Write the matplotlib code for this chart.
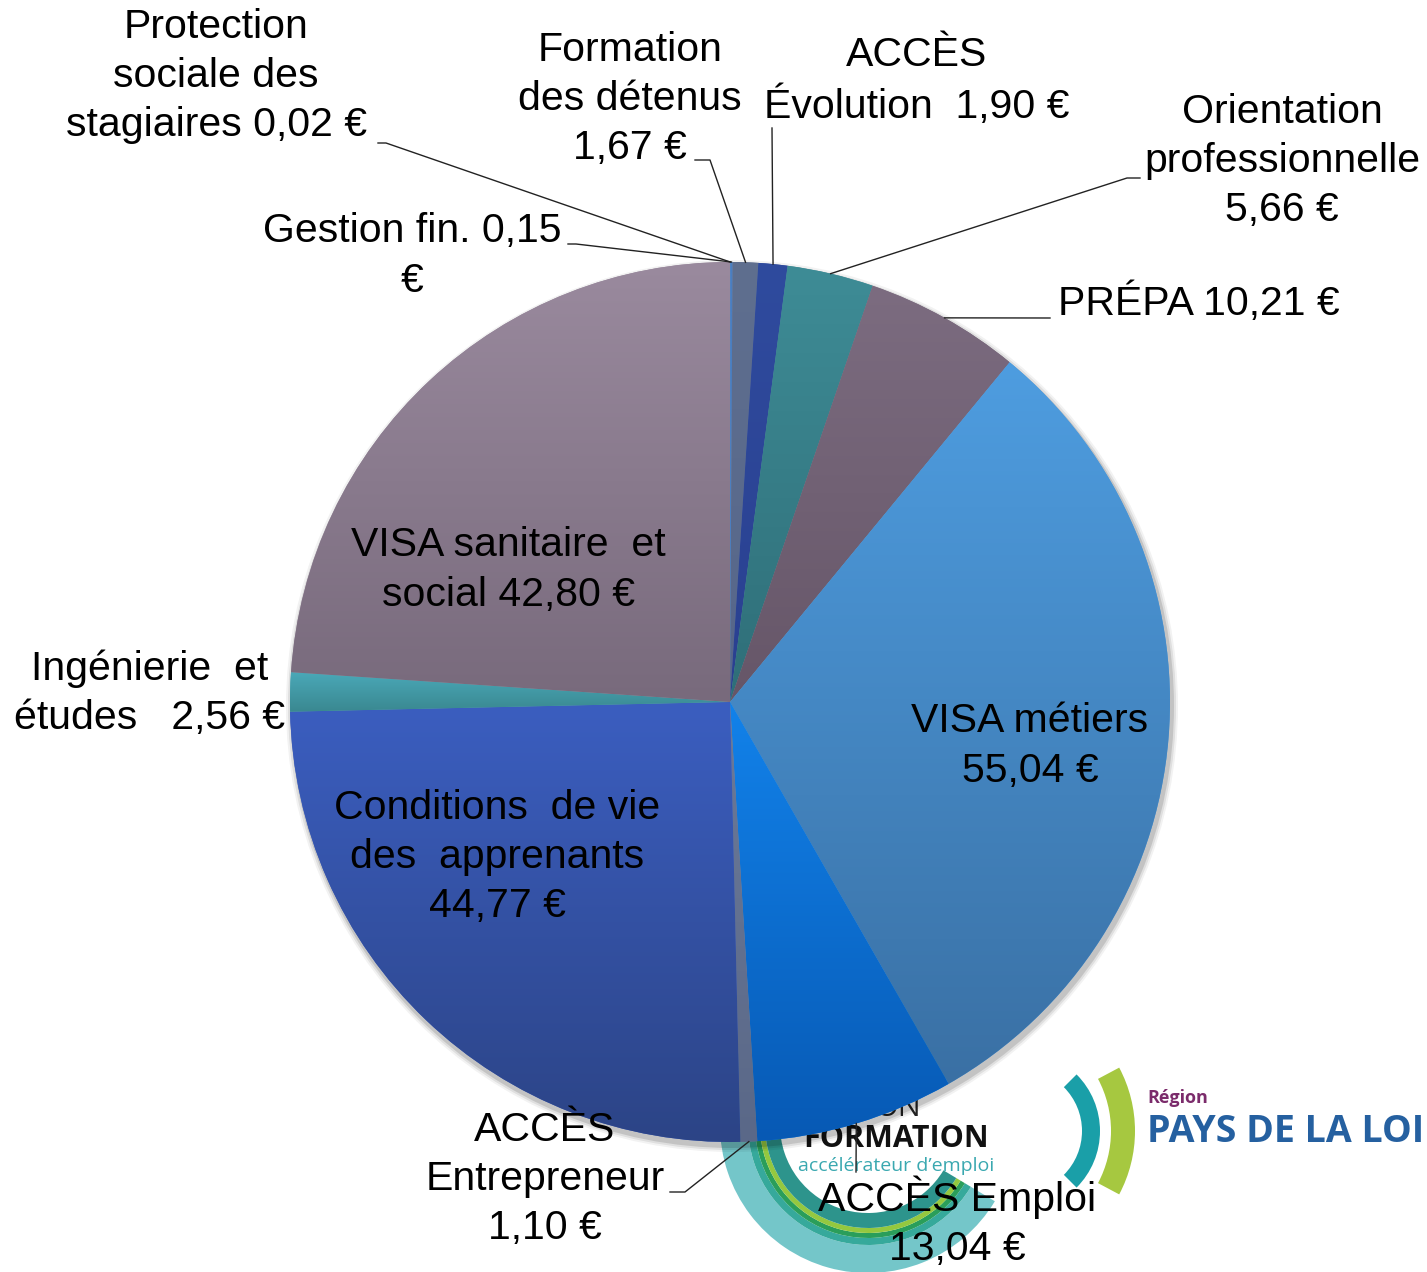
import numpy as np
import matplotlib.pyplot as plt
from matplotlib.patches import Wedge, Circle
from matplotlib.colors import to_rgb

W, H = 1427, 1272

# data, clockwise from 12 o'clock
labels = ['Protection\nsociale des\nstagiaires 0,02 €',
          'Gestion fin. 0,15\n€',
          'Formation\ndes détenus\n1,67 €',
          'ACCÈS\nÉvolution  1,90 €',
          'Orientation\nprofessionnelle\n5,66 €',
          'PRÉPA 10,21 €',
          'VISA métiers\n55,04 €',
          'ACCÈS Emploi\n13,04 €',
          'ACCÈS\nEntrepreneur\n1,10 €',
          'Conditions  de vie\ndes  apprenants\n44,77 €',
          'Ingénierie  et\nétudes   2,56 €',
          'VISA sanitaire  et\nsocial 42,80 €']
values = [0.02, 0.15, 1.67, 1.90, 5.66, 10.21, 55.04, 13.04, 1.10, 44.77, 2.56, 42.80]

top_colors = ['#5b8bd0', '#4a7ec0', '#5f6f8f', '#2f4b9e', '#3e8c96', '#7c6c80',
              '#4e9de0', '#1282ea', '#6c7a98', '#3b5ec0', '#4aa8b8', '#9a8a9e']
bottom_colors = ['#5b8bd0', '#4a7ec0', '#56668a', '#2a4090', '#2f6e78', '#665668',
                 '#3a70a4', '#0759b4', '#5a6888', '#2c4486', '#3a8890', '#786a7c']

# label placement in picture pixels (x, y from top)
label_pos = [(216, 76), (412, 256), (630, 99), (917, 81), (1282, 161), (1199, 303),
             (1030, 746), (957, 1222), (545, 1179), (497, 857), (150, 693), (508, 570)]
# leader line: text end point + elbow (None = no line)
leaders = [[(378, 143), (386, 143)], [(568, 244), (576, 244)], [(695, 160), (710, 160)],
           [(772, 128)], [(1140, 178), (1127, 178)], [(1050, 318)],
           None, [(856, 1172)], [(670, 1192), (685, 1192)], None, None, None]

cx, cy, R = 730, 702, 440


def Y(y):
    return H - y


fig = plt.figure(figsize=(W / 100, H / 100), dpi=100)
ax = fig.add_axes([0, 0, 1, 1])

# ---- logo in the background ----
lc = (868, Y(1125))
for r, w, c in [(148, 28, '#74c6c9'), (120, 7, '#36a99b'), (113, 5, '#2a9e5a'),
                (108, 5, '#94c83f'), (103, 15, '#2d948c')]:
    ax.add_patch(Wedge(lc, r, 31, 329, width=w, color=c, zorder=0.5, lw=0))
ax.add_patch(Wedge((1020, Y(1131)), 80, -45, 45, width=18, color='#1a9fa8', zorder=0.5, lw=0))
ax.add_patch(Wedge((1000, Y(1131)), 135, -28, 28, width=24, color='#a6c840', zorder=0.5, lw=0))
ax.text(1147, Y(1098), 'Région', color='#7b2b6b', fontsize=13, fontweight='bold',
        family='Open Sans', ha='left', va='center', zorder=0.6)
ax.text(1147, Y(1132), 'PAYS DE LA LOI', color='#2560a0', fontsize=27, fontweight='bold',
        family='Open Sans', ha='left', va='center', zorder=0.6)
ax.text(898, Y(1108), 'ON', color='#222222', fontsize=22, family='Open Sans',
        ha='center', va='center', zorder=0.6)
ax.text(896, Y(1139), 'FORMATION', color='#111111', fontsize=22, fontweight='bold',
        family='Open Sans', ha='center', va='center', zorder=0.6)
ax.text(896, Y(1166), 'accélérateur d’emploi', color='#3aa8b0', fontsize=14,
        family='Open Sans', ha='center', va='center', zorder=0.6)

# ---- soft shadow ----
for k, a in [(6, 0.05), (4, 0.08), (2, 0.12)]:
    ax.add_patch(Circle((cx + 2, Y(cy) - 4), R + k, color='black', alpha=a, lw=0, zorder=1))

# ---- pie ----
wedges, _ = ax.pie(values, startangle=90, counterclock=False, radius=R,
                   center=(cx, Y(cy)), colors=top_colors,
                   wedgeprops=dict(linewidth=0, zorder=2))

for w, c1, c2 in zip(wedges, top_colors, bottom_colors):
    w.set_zorder(2)
    bb = w.get_path().get_extents()
    t = np.linspace(0, 1, 256)[:, None]
    grad = (1 - t) * np.array(to_rgb(c1)) + t * np.array(to_rgb(c2))
    im = ax.imshow(grad[:, None, :], extent=[bb.x0, bb.x1, bb.y0, bb.y1],
                   origin='upper', aspect='auto', interpolation='bilinear', zorder=2.1)
    im.set_clip_path(w)

# ---- leader lines ----
for w, ld in zip(wedges, leaders):
    if ld is None:
        continue
    th = np.deg2rad((w.theta1 + w.theta2) / 2)
    ex, ey = cx + R * np.cos(th), Y(cy) + R * np.sin(th)
    pts = [(x, Y(y)) for x, y in ld] + [(ex, ey)]
    xs, ys = zip(*pts)
    ax.plot(xs, ys, color='#222222', lw=1, zorder=3)

# ---- labels ----
for lab, (x, y) in zip(labels, label_pos):
    ax.text(x, Y(y), lab, ha='center', va='center', multialignment='center',
            fontsize=29.5, family='Liberation Sans', linespacing=1.38, color='black', zorder=4)

ax.set_xlim(0, W)
ax.set_ylim(0, H)
ax.set_aspect('auto')
ax.axis('off')

fig.savefig('out.png', dpi=100)
